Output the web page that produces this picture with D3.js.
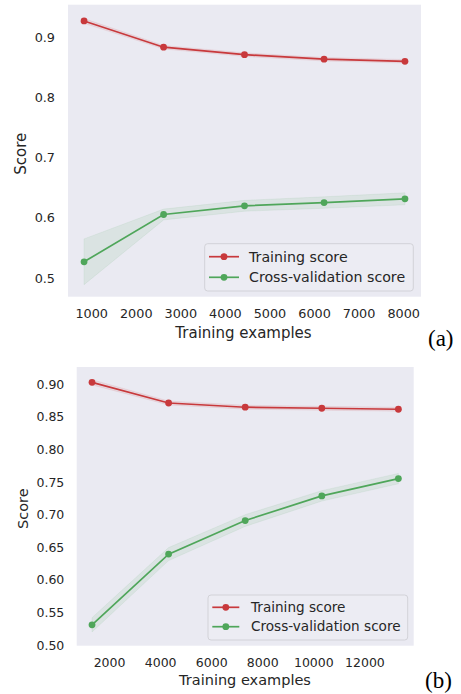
<!DOCTYPE html>
<html>
<head>
<meta charset="utf-8">
<script src="https://cdn.jsdelivr.net/npm/d3@7"></script>
<style>
  html, body { margin: 0; padding: 0; background: #ffffff; }
  svg { display: block; }
</style>
</head>
<body>
<svg id="chart" width="461" height="694"></svg>
<script>
// ---- Panel (a): learning curve, smaller training set ----
const sizesA = [840, 2625, 4440, 6225, 8040];
const trainMeanA = [0.927, 0.8834, 0.871, 0.8635, 0.860];
const trainStdA = [0.004, 0.003, 0.003, 0.003, 0.003];
const cvMeanA = [0.527, 0.6055, 0.620, 0.6254, 0.6316];
const cvStdA = [0.038, 0.009, 0.009, 0.0095, 0.010];
const xTicksA = [1000, 2000, 3000, 4000, 5000, 6000, 7000, 8000];
const yTicksA = [0.5, 0.6, 0.7, 0.8, 0.9];

// ---- Panel (b): learning curve, larger training set ----
const sizesB = [1333, 4332, 7331, 10331, 13330];
const trainMeanB = [0.903, 0.8713, 0.8648, 0.8632, 0.8617];
const trainStdB = [0.004, 0.003, 0.003, 0.003, 0.003];
const cvMeanB = [0.531, 0.6395, 0.691, 0.7288, 0.7553];
const cvStdB = [0.011, 0.010, 0.009, 0.008, 0.008];
const xTicksB = [2000, 4000, 6000, 8000, 10000, 12000];
const yTicksB = [0.50, 0.55, 0.60, 0.65, 0.70, 0.75, 0.80, 0.85, 0.90];

const seriesNames = ["Training score", "Cross-validation score"];
const seriesColors = ["#C8393C", "#4FA65A"];

const svg = d3.select("#chart");
const FONT = "'DejaVu Sans', sans-serif";
const TEXT = "#262626";

function drawPanel(cfg) {
  const x = d3.scaleLinear().domain(cfg.xDomain).range([cfg.left, cfg.right]);
  const y = d3.scaleLinear().domain(cfg.yDomain).range([cfg.bottom, cfg.top]);
  const g = svg.append("g");

  // plot background
  g.append("rect")
    .attr("x", cfg.left).attr("y", cfg.top)
    .attr("width", cfg.right - cfg.left).attr("height", cfg.bottom - cfg.top)
    .attr("fill", "#EAEAF2");

  const clipId = "clip-" + cfg.tag;
  g.append("clipPath").attr("id", clipId).append("rect")
    .attr("x", cfg.left).attr("y", cfg.top)
    .attr("width", cfg.right - cfg.left).attr("height", cfg.bottom - cfg.top);
  const plot = g.append("g").attr("clip-path", `url(#${clipId})`);

  const series = [
    { mean: cfg.trainMean, std: cfg.trainStd, color: seriesColors[0] },
    { mean: cfg.cvMean, std: cfg.cvStd, color: seriesColors[1] }
  ];

  const area = d3.area()
    .x(d => x(d.s))
    .y0(d => y(d.m - d.sd))
    .y1(d => y(d.m + d.sd));
  const line = d3.line().x(d => x(d.s)).y(d => y(d.m));

  series.forEach(sr => {
    const pts = cfg.sizes.map((s, i) => ({ s, m: sr.mean[i], sd: sr.std[i] }));
    plot.append("path").datum(pts)
      .attr("d", area)
      .attr("fill", sr.color).attr("fill-opacity", 0.1)
      .attr("stroke", sr.color).attr("stroke-opacity", 0.08).attr("stroke-width", 1);
  });
  series.forEach(sr => {
    const pts = cfg.sizes.map((s, i) => ({ s, m: sr.mean[i] }));
    plot.append("path").datum(pts)
      .attr("d", line)
      .attr("fill", "none").attr("stroke", sr.color).attr("stroke-width", 1.7);
    plot.selectAll(null).data(pts).enter().append("circle")
      .attr("cx", d => x(d.s)).attr("cy", d => y(d.m))
      .attr("r", 3.4).attr("fill", sr.color);
  });

  // axes (no spines, no tick marks)
  const xAxis = g.append("g")
    .attr("transform", `translate(0,${cfg.bottom})`)
    .call(d3.axisBottom(x).tickValues(cfg.xTicks).tickSize(0).tickPadding(0).tickFormat(d3.format("d")));
  xAxis.select(".domain").remove();
  xAxis.selectAll("text")
    .attr("y", cfg.xTickDy).attr("dy", "0.35em")
    .attr("font-family", FONT).attr("font-size", cfg.tickSize).attr("fill", TEXT);

  const yAxis = g.append("g")
    .attr("transform", `translate(${cfg.left},0)`)
    .call(d3.axisLeft(y).tickValues(cfg.yTicks).tickSize(0).tickPadding(cfg.yTickPad).tickFormat(d3.format(cfg.yFmt)));
  yAxis.select(".domain").remove();
  yAxis.selectAll("text")
    .attr("font-family", FONT).attr("font-size", cfg.tickSize).attr("fill", TEXT);

  // axis titles
  g.append("text")
    .attr("x", cfg.xLabelX).attr("y", cfg.xLabelY).attr("dy", "0.35em")
    .attr("text-anchor", "middle")
    .attr("font-family", FONT).attr("font-size", cfg.labelSize).attr("fill", TEXT)
    .text("Training examples");
  g.append("text")
    .attr("transform", `translate(${cfg.yLabelX},${cfg.yLabelY}) rotate(-90)`)
    .attr("dy", "0.35em")
    .attr("text-anchor", "middle")
    .attr("font-family", FONT).attr("font-size", cfg.labelSize).attr("fill", TEXT)
    .text("Score");

  // legend
  const lg = g.append("g");
  lg.append("rect")
    .attr("x", cfg.legend.x).attr("y", cfg.legend.y)
    .attr("width", cfg.legend.w).attr("height", cfg.legend.h)
    .attr("rx", 3).attr("ry", 3)
    .attr("fill", "#ECECF3").attr("stroke", "#D2D2D8").attr("stroke-width", 1);
  seriesNames.forEach((name, i) => {
    const ry = cfg.legend.rows[i];
    lg.append("line")
      .attr("x1", cfg.legend.lx1).attr("x2", cfg.legend.lx2)
      .attr("y1", ry).attr("y2", ry)
      .attr("stroke", seriesColors[i]).attr("stroke-width", 1.7);
    lg.append("circle")
      .attr("cx", (cfg.legend.lx1 + cfg.legend.lx2) / 2).attr("cy", ry)
      .attr("r", 3.4).attr("fill", seriesColors[i]);
    lg.append("text")
      .attr("x", cfg.legend.tx).attr("y", ry).attr("dy", "0.35em")
      .attr("font-family", FONT).attr("font-size", cfg.legendSize).attr("fill", TEXT)
      .text(name);
  });

  // panel tag
  g.append("text")
    .attr("x", cfg.tagX).attr("y", cfg.tagY).attr("dy", "0.35em")
    .attr("font-family", "'Liberation Serif', 'Times New Roman', serif")
    .attr("font-size", 23).attr("fill", "#000")
    .text(cfg.tag);
}

drawPanel({
  tag: "(a)",
  sizes: sizesA, trainMean: trainMeanA, trainStd: trainStdA, cvMean: cvMeanA, cvStd: cvStdA,
  xTicks: xTicksA, yTicks: yTicksA, yFmt: ".1f",
  xDomain: [480, 8400], yDomain: [0.469, 0.954],
  left: 68, right: 421, top: 4.7, bottom: 296.7,
  tickSize: 12.8, labelSize: 15, legendSize: 14.2,
  xTickDy: 17.3, yTickPad: 13,
  xLabelX: 243.5, xLabelY: 332.7, yLabelX: 20.7, yLabelY: 153.7,
  legend: { x: 204.7, y: 243.7, w: 208.6, h: 47.3, rows: [256.7, 277.3], lx1: 209, lx2: 239, tx: 249 },
  tagX: 428, tagY: 338
});

drawPanel({
  tag: "(b)",
  sizes: sizesB, trainMean: trainMeanB, trainStd: trainStdB, cvMean: cvMeanB, cvStd: cvStdB,
  xTicks: xTicksB, yTicks: yTicksB, yFmt: ".2f",
  xDomain: [733, 13930], yDomain: [0.499, 0.9265],
  left: 76.7, right: 413.7, top: 367, bottom: 645.7,
  tickSize: 12.5, labelSize: 14.5, legendSize: 13.6,
  xTickDy: 16.6, yTickPad: 12.4,
  xLabelX: 245, xLabelY: 680, yLabelX: 23.3, yLabelY: 508.7,
  legend: { x: 208, y: 595, w: 199.7, h: 45, rows: [607.3, 626.7], lx1: 212.3, lx2: 239.3, tx: 251 },
  tagX: 425, tagY: 680
});
</script>
</body>
</html>
